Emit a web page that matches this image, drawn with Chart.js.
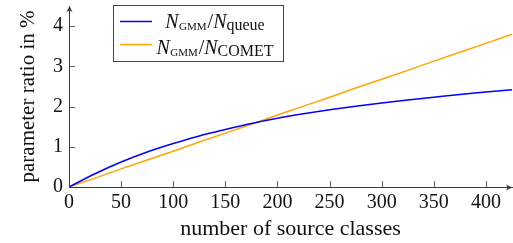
<!DOCTYPE html>
<html>
<head>
<meta charset="utf-8">
<script src="https://cdn.jsdelivr.net/npm/chart.js@4/dist/chart.umd.min.js"></script>
<style>
  html, body { margin:0; padding:0; background:#fff; }
  #wrap { width:513px; height:243px; }
</style>
</head>
<body>
<div id="wrap"><canvas id="chart"></canvas></div>
<script>
// data
const classes = [0, 25, 50, 75, 100, 125, 150, 175, 200, 225, 250, 275, 300, 325, 350, 375, 400, 425];
const ratioQueue = [0, 0.33, 0.62, 0.87, 1.08, 1.27, 1.43, 1.58, 1.71, 1.82, 1.92, 2.01, 2.09, 2.16, 2.23, 2.30, 2.36, 2.42];
const ratioComet = [0, 0.22, 0.45, 0.67, 0.89, 1.12, 1.34, 1.56, 1.79, 2.01, 2.23, 2.46, 2.68, 2.90, 3.13, 3.35, 3.57, 3.80];
const xTicks = [0, 50, 100, 150, 200, 250, 300, 350, 400];
const yTicks = [0, 1, 2, 3, 4];
const denominators = ['queue', 'COMET'];

const blue = '#0000ff';
const orange = '#ffa500';
const axisCol = '#3a3a3a';
const serif = '"Liberation Serif", "DejaVu Serif", serif';

// inward ticks, arrow heads and the legend (needs subscripts, so drawn by hand)
const decor = {
  id: 'decor',
  afterDraw(chart){
    const {ctx, chartArea: a, scales: {x, y}} = chart;
    ctx.save();
    ctx.strokeStyle = axisCol;
    ctx.lineWidth = 0.8;
    xTicks.forEach(v => {
      const px = Math.round(x.getPixelForValue(v)) + 0.5;
      ctx.beginPath(); ctx.moveTo(px, a.bottom); ctx.lineTo(px, a.bottom - 6); ctx.stroke();
    });
    yTicks.forEach(v => {
      const py = Math.round(y.getPixelForValue(v)) + 0.5;
      ctx.beginPath(); ctx.moveTo(a.left, py); ctx.lineTo(a.left + 6, py); ctx.stroke();
    });

    // arrows
    ctx.fillStyle = axisCol;
    const xb = Math.round(a.bottom) + 0.5, xl = Math.round(a.left) + 0.5;
    ctx.beginPath();
    ctx.moveTo(a.right, xb); ctx.lineTo(a.right - 6, xb - 3); ctx.lineTo(a.right - 4.5, xb); ctx.lineTo(a.right - 6, xb + 3); ctx.closePath();
    ctx.fill();
    ctx.beginPath();
    ctx.moveTo(xl, a.top); ctx.lineTo(xl - 3, a.top + 6); ctx.lineTo(xl, a.top + 4.5); ctx.lineTo(xl + 3, a.top + 6); ctx.closePath();
    ctx.fill();

    // legend box
    const box = {l: 113.5, t: 5.5, r: 283.5, b: 61.5};
    ctx.fillStyle = '#fff';
    ctx.fillRect(box.l, box.t, box.r - box.l, box.b - box.t);
    ctx.strokeStyle = '#444';
    ctx.lineWidth = 1;
    ctx.strokeRect(box.l, box.t, box.r - box.l, box.b - box.t);

    const rows = [{y: 21.5, base: 28, color: blue}, {y: 44.5, base: 54, color: orange}];
    const bigF = 'italic 20px ' + serif;
    const smallSub = '11px ' + serif;
    const subF = '16px ' + serif;
    const slashF = '20px ' + serif;
    rows.forEach((r, i) => {
      ctx.strokeStyle = r.color;
      ctx.lineWidth = 1.5;
      ctx.beginPath(); ctx.moveTo(120, r.y); ctx.lineTo(152, r.y); ctx.stroke();

      const parts = [
        {t: 'N', f: bigF, dy: 0},
        {t: 'GMM', f: smallSub, dy: 1.5, pad: 0.5},
        {t: '/', f: slashF, dy: 0, pad: 1},
        {t: 'N', f: bigF, dy: 0},
        {t: denominators[i], f: subF, dy: 1.5, pad: 0}
      ];
      let w = 0;
      parts.forEach(p => { ctx.font = p.f; p.w = ctx.measureText(p.t).width + (p.pad || 0); w += p.w; });
      let cx = 215 - w / 2;
      ctx.fillStyle = '#111';
      ctx.textBaseline = 'alphabetic';
      ctx.textAlign = 'left';
      parts.forEach(p => {
        ctx.font = p.f;
        ctx.fillText(p.t, cx + (p.pad || 0), r.base + p.dy);
        cx += p.w;
      });
    });
    ctx.restore();
  }
};

// keep the plot box where the reference has it (no extra room for edge labels)
function fixX(s){ s.height = 56; s.paddingLeft = 0; s.paddingRight = 0; }
function fixY(s){ s.width = 69; s.paddingTop = 0; s.paddingBottom = 0; }

new Chart(document.getElementById('chart'), {
  type: 'line',
  data: {
    datasets: [
      {
        label: 'N_GMM/N_queue',
        data: classes.map((c, i) => ({x: c, y: ratioQueue[i]})),
        borderColor: blue, borderWidth: 1.5, pointRadius: 0,
        cubicInterpolationMode: 'monotone'
      },
      {
        label: 'N_GMM/N_COMET',
        data: classes.map((c, i) => ({x: c, y: ratioComet[i]})),
        borderColor: orange, borderWidth: 1.5, pointRadius: 0
      }
    ]
  },
  options: {
    responsive: true,
    maintainAspectRatio: false,
    animation: false,
    layout: { padding: { top: 6, right: 1, left: 0, bottom: 0 } },
    plugins: { legend: { display: false }, tooltip: { enabled: false } },
    scales: {
      x: {
        type: 'linear', min: 0, max: 425,
        afterFit: fixX,
        border: { color: axisCol, width: 1 },
        grid: { display: false, drawTicks: false },
        ticks: { stepSize: 50, includeBounds: false, padding: 4, maxRotation: 0, color: '#111', font: { family: serif, size: 20 } },
        title: { display: true, text: 'number of source classes', color: '#111', padding: { top: 0, bottom: 1 }, font: { family: serif, size: 22 } }
      },
      y: {
        min: 0, max: 4.5,
        afterFit: fixY,
        border: { color: axisCol, width: 1 },
        grid: { display: false, drawTicks: false },
        ticks: { stepSize: 1, includeBounds: false, padding: 6, color: '#111', font: { family: serif, size: 20 } },
        title: { display: true, text: 'parameter ratio in %', color: '#111', padding: { top: 16, bottom: 0 }, font: { family: serif, size: 21 } }
      }
    }
  },
  plugins: [decor]
});
</script>
</body>
</html>
